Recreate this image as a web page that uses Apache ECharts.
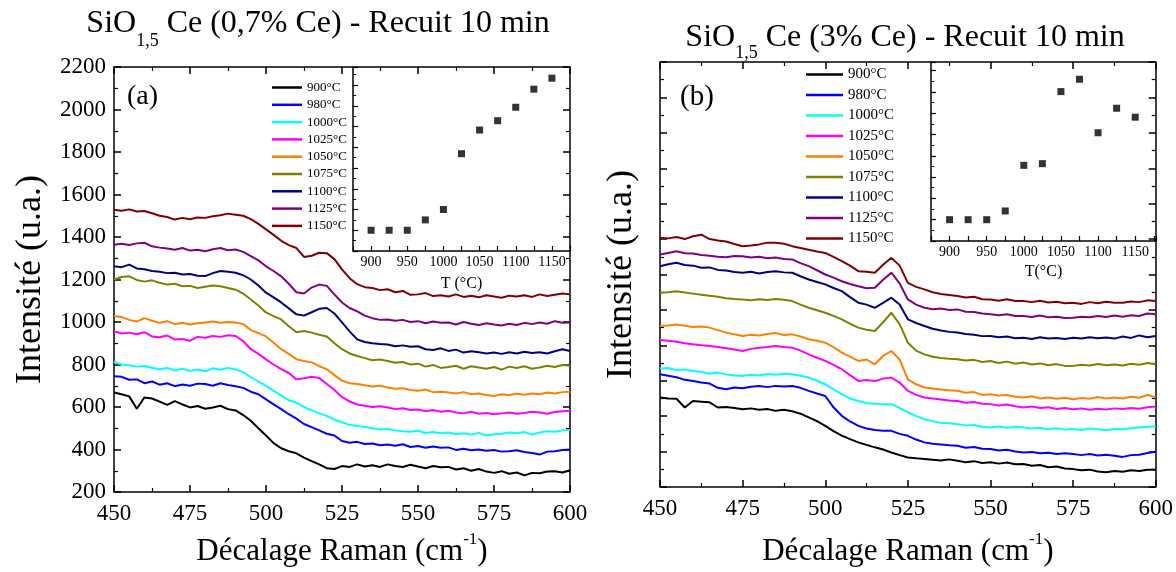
<!DOCTYPE html>
<html><head><meta charset="utf-8">
<script src="https://cdn.jsdelivr.net/npm/echarts@6/dist/echarts.min.js"></script>
<style>html,body{margin:0;padding:0;background:#fff}#c{width:1176px;height:572px}</style>
</head><body><div id="c"></div>
<script>
const FONT = '"Liberation Serif", "DejaVu Serif", serif';

const ramanShift = [450,452.5,455,457.5,460,462.5,465,467.5,470,472.5,475,477.5,480,482.5,485,487.5,490,492.5,495,497.5,500,502.5,505,507.5,510,512.5,515,517.5,520,522.5,525,527.5,530,532.5,535,537.5,540,542.5,545,547.5,550,552.5,555,557.5,560,562.5,565,567.5,570,572.5,575,577.5,580,582.5,585,587.5,590,592.5,595,597.5,600];
const tempLabels = ['900°C','980°C','1000°C','1025°C','1050°C','1075°C','1100°C','1125°C','1150°C'];
const lineColors = ['#000000','#0000ff','#00ffff','#ff00ff','#ff8000','#808000','#000080','#800080','#800000'];

// Panel (a) SiO1,5 Ce 0,7%
const a900 = [668,660,650,592,645,640,625,610,628,612,598,605,592,598,606,590,584,562,535,500,466,430,406,392,382,362,345,330,312,308,322,318,330,320,326,318,330,322,318,328,320,312,322,316,318,306,312,300,308,296,290,298,286,292,278,290,288,296,298,292,302];
const a980 = [745,742,728,730,712,720,705,712,698,706,700,710,708,700,712,704,698,690,672,660,636,612,590,566,545,520,505,490,474,466,440,432,436,426,428,420,424,418,425,412,416,408,414,408,410,398,404,396,400,394,398,390,392,396,388,384,376,390,392,398,400];
const a1000 = [812,800,796,790,793,785,778,784,772,780,770,776,768,782,775,784,777,764,740,720,699,676,654,632,621,600,584,570,558,540,528,516,511,506,500,494,496,490,486,484,488,478,482,476,480,472,476,470,478,466,472,474,480,476,482,470,480,486,484,490,492];
const a1025 = [957,946,950,942,952,932,928,936,918,920,912,930,926,934,930,938,934,910,872,850,824,800,778,760,730,735,742,736,708,680,646,626,612,606,600,604,598,590,594,586,588,580,586,578,582,574,570,578,568,572,566,570,574,568,572,578,574,568,576,580,582];
const a1050 = [1028,1024,1010,1002,1018,1006,996,1004,990,996,988,994,998,1002,996,1000,998,990,962,948,932,902,872,850,825,816,810,792,778,750,724,712,708,702,696,700,692,686,688,680,676,682,670,672,668,664,670,660,664,656,652,660,656,662,658,664,660,668,664,670,672];
const a1075 = [1200,1212,1215,1198,1190,1196,1185,1176,1180,1168,1170,1160,1166,1172,1168,1160,1152,1134,1106,1078,1045,1028,1012,980,952,958,950,940,932,900,872,852,840,830,820,824,816,808,812,800,804,790,798,784,788,794,780,792,786,780,788,776,790,784,792,780,786,794,788,798,794];
const a1100 = [1262,1258,1270,1252,1248,1240,1236,1230,1232,1224,1226,1218,1216,1230,1240,1236,1232,1220,1200,1172,1138,1116,1092,1064,1036,1030,1046,1062,1066,1040,998,956,918,906,900,896,894,886,890,884,886,872,868,876,864,870,856,862,858,852,856,850,858,852,860,854,858,852,862,872,864];
const a1125 = [1364,1368,1362,1370,1373,1356,1350,1346,1340,1348,1336,1340,1333,1342,1348,1338,1341,1330,1310,1290,1262,1240,1215,1180,1140,1134,1162,1176,1170,1130,1092,1066,1050,1030,1018,1010,1012,1006,1010,1000,1004,994,1002,996,998,988,1000,992,986,994,988,984,992,986,996,990,998,992,1004,996,998];
const a1150 = [1528,1524,1530,1520,1522,1512,1500,1494,1482,1490,1484,1492,1490,1498,1502,1510,1505,1500,1484,1462,1436,1410,1382,1362,1348,1306,1312,1326,1324,1296,1248,1206,1178,1164,1160,1150,1154,1140,1146,1128,1130,1136,1122,1126,1120,1130,1118,1124,1116,1126,1120,1114,1124,1120,1126,1118,1130,1122,1128,1134,1130];

// Panel (b) SiO1,5 Ce 3%
const b900 = [505,500,498,449,486,482,478,449,452,446,439,444,436,440,430,436,428,414,393,372,345,316,290,270,252,238,224,212,195,180,167,162,158,154,150,156,148,140,146,136,140,132,138,128,130,120,124,112,116,104,101,94,98,88,83,90,86,94,90,98,97];
const b980 = [637,628,620,605,599,590,584,560,552,562,558,566,570,564,571,568,570,560,543,528,514,450,402,370,345,330,322,318,317,300,289,268,252,244,240,236,233,222,226,216,214,206,210,200,195,198,190,194,186,190,186,180,186,178,182,176,170,180,182,192,199];
const b1000 = [669,672,660,664,655,650,640,646,636,630,627,634,630,638,634,640,637,628,618,600,580,552,524,500,486,474,470,468,468,446,421,400,383,372,362,360,355,348,350,340,336,342,334,340,336,330,334,326,332,324,327,322,330,326,320,328,326,332,336,340,342];
const b1025 = [830,826,820,812,806,800,796,790,784,776,768,780,786,790,796,790,787,770,749,730,712,690,665,632,599,604,598,612,618,590,543,520,505,500,494,488,486,476,480,470,468,460,466,456,449,454,446,450,440,446,439,444,436,442,438,444,440,446,442,450,455];
const b1050 = [909,912,918,910,904,906,900,886,872,862,853,860,856,864,870,858,862,850,834,826,815,790,759,736,712,720,693,740,768,720,608,580,562,556,550,546,543,532,536,520,524,516,520,510,505,512,500,506,498,504,496,502,498,508,500,506,500,510,504,520,505];
const b1075 = [1097,1100,1106,1098,1092,1086,1080,1074,1066,1062,1059,1054,1060,1056,1062,1058,1050,1030,1012,998,984,966,947,922,900,888,881,930,984,920,815,770,749,736,728,724,721,714,718,706,712,700,708,696,703,692,698,688,694,684,684,690,686,694,688,692,686,696,690,700,693];
const b1100 = [1247,1258,1266,1254,1250,1238,1240,1226,1222,1214,1210,1216,1206,1214,1218,1212,1210,1190,1172,1158,1144,1124,1106,1072,1041,1030,1012,1040,1069,1030,947,926,909,894,884,876,872,864,860,852,853,846,850,840,843,836,846,838,842,836,843,838,846,840,844,838,850,842,856,846,853];
const b1125 = [1313,1322,1331,1320,1318,1310,1306,1300,1298,1304,1303,1296,1300,1292,1296,1288,1285,1264,1247,1224,1200,1182,1162,1146,1134,1122,1125,1170,1210,1150,1059,1030,1012,1004,1008,1000,1003,990,988,980,975,970,976,966,965,960,968,958,962,954,956,962,958,966,960,968,962,970,966,980,975];
const b1150 = [1407,1404,1412,1400,1416,1425,1400,1392,1386,1372,1360,1364,1370,1380,1379,1374,1360,1350,1340,1330,1322,1300,1275,1250,1219,1215,1210,1255,1294,1250,1153,1130,1116,1100,1090,1084,1078,1070,1074,1060,1059,1052,1060,1050,1050,1044,1052,1042,1046,1038,1041,1034,1044,1038,1046,1040,1041,1048,1044,1054,1050];

// Insets: intensity of the c-Si peak (arb. units) vs annealing temperature
const insetTemps = [900,925,950,975,1000,1025,1050,1075,1100,1125,1150];
const insetA = [1.0,1.0,1.0,1.5,2.0,4.69,5.83,6.28,6.93,7.80,8.33];
const insetB = [1.0,1.0,1.0,1.41,3.55,3.63,7.01,7.59,5.08,6.23,5.81];

const seriesA = [a900,a980,a1000,a1025,a1050,a1075,a1100,a1125,a1150];
const seriesB = [b900,b980,b1000,b1025,b1050,b1075,b1100,b1125,b1150];

const BLACK = '#000';
function frameAxis(extra) {
  return Object.assign({
    type: 'value',
    axisLine: {show: true, onZero: false, lineStyle: {color: BLACK, width: 1.5}},
    axisTick: {show: true, inside: true, length: 7, lineStyle: {color: BLACK, width: 1.5}},
    minorTick: {show: true, splitNumber: 2, length: 4, lineStyle: {color: BLACK, width: 1.2}},
    splitLine: {show: false},
    minorSplitLine: {show: false},
    axisLabel: {show: false}
  }, extra);
}
const tickLabel = {show: true, color: BLACK, fontFamily: FONT, fontSize: 23, margin: 10,
  formatter: v => String(v)};
const insetLabel = {show: true, color: BLACK, fontFamily: FONT, fontSize: 14, margin: 4,
  formatter: v => (v % 50 === 0 ? String(v) : '')};

const xNameRich = {
  a: {fontFamily: FONT, fontSize: 31, color: BLACK, lineHeight: 36, verticalAlign: 'bottom'},
  s: {fontFamily: FONT, fontSize: 17, color: BLACK, lineHeight: 18, verticalAlign: 'top'}
};
const xName = '{a|Décalage Raman (cm}{s|-1}{a|)}';
const yNameStyle = {fontFamily: FONT, fontSize: 36, color: BLACK};

const xAxes = [
  frameAxis({gridIndex: 0, position: 'bottom', min: 450, max: 600, interval: 25, axisLabel: tickLabel,
    name: xName, nameLocation: 'middle', nameGap: 39, nameTextStyle: {rich: xNameRich}}),
  frameAxis({gridIndex: 0, position: 'top', min: 450, max: 600, interval: 25}),
  frameAxis({gridIndex: 1, position: 'bottom', min: 875, max: 1175, interval: 25,
    axisTick: {show: true, inside: true, length: 5, lineStyle: {color: BLACK, width: 1.2}},
    minorTick: {show: false}, axisLabel: insetLabel,
    name: 'T (°C)', nameLocation: 'middle', nameGap: 25,
    nameTextStyle: {fontFamily: FONT, fontSize: 16, color: BLACK}}),
  frameAxis({gridIndex: 2, position: 'bottom', min: 450, max: 600, interval: 25, axisLabel: tickLabel,
    name: xName, nameLocation: 'middle', nameGap: 44, nameTextStyle: {rich: xNameRich}}),
  frameAxis({gridIndex: 2, position: 'top', min: 450, max: 600, interval: 25}),
  frameAxis({gridIndex: 3, position: 'bottom', min: 875, max: 1178, interval: 25,
    axisTick: {show: true, inside: true, length: 5, lineStyle: {color: BLACK, width: 1.2}},
    minorTick: {show: false}, axisLabel: insetLabel,
    name: 'T(°C)', nameLocation: 'middle', nameGap: 23,
    nameTextStyle: {fontFamily: FONT, fontSize: 16, color: BLACK}})
];
const yAxes = [
  frameAxis({gridIndex: 0, position: 'left', min: 200, max: 2200, interval: 200,
    axisLabel: Object.assign({}, tickLabel, {margin: 8}),
    name: 'Intensité (u.a.)', nameLocation: 'middle', nameGap: 65, nameTextStyle: yNameStyle}),
  frameAxis({gridIndex: 0, position: 'right', min: 200, max: 2200, interval: 200}),
  frameAxis({gridIndex: 1, position: 'left', min: 0, max: 8.87, interval: 1,
    axisTick: {show: true, inside: true, length: 5, lineStyle: {color: BLACK, width: 1.2}},
    minorTick: {show: true, splitNumber: 2, length: 3, lineStyle: {color: BLACK, width: 1}}}),
  frameAxis({gridIndex: 2, position: 'left', min: 0, max: 2400, interval: 200,
    name: 'Intensité (u.a.)', nameLocation: 'middle', nameGap: 20, nameTextStyle: yNameStyle}),
  frameAxis({gridIndex: 2, position: 'right', min: 0, max: 2400, interval: 200}),
  frameAxis({gridIndex: 3, position: 'left', min: 0, max: 8.4, interval: 1,
    axisTick: {show: true, inside: true, length: 5, lineStyle: {color: BLACK, width: 1.2}},
    minorTick: {show: true, splitNumber: 2, length: 3, lineStyle: {color: BLACK, width: 1}}})
];

function lineSeries(vals, i, xi, yi) {
  return {
    type: 'line', name: tempLabels[i], xAxisIndex: xi, yAxisIndex: yi,
    data: vals.map((v, k) => [ramanShift[k], v]),
    showSymbol: false, symbol: 'none', silent: true,
    lineStyle: {color: lineColors[i], width: 2}, itemStyle: {color: lineColors[i]},
    z: 2
  };
}
const series = [];
seriesA.forEach((v, i) => series.push(lineSeries(v, i, 0, 0)));
seriesB.forEach((v, i) => series.push(lineSeries(v, i, 3, 3)));
series.push({type: 'scatter', xAxisIndex: 2, yAxisIndex: 2, symbol: 'rect', symbolSize: 7,
  itemStyle: {color: BLACK}, data: insetTemps.map((t, k) => [t, insetA[k]])});
series.push({type: 'scatter', xAxisIndex: 5, yAxisIndex: 5, symbol: 'rect', symbolSize: 7,
  itemStyle: {color: BLACK}, data: insetTemps.map((t, k) => [t, insetB[k]])});

function titleRich(subLine) {
  return {
    a: {fontFamily: FONT, fontSize: 32, fontWeight: 'normal', color: BLACK, lineHeight: 30, verticalAlign: 'top'},
    s: {fontFamily: FONT, fontSize: 18, fontWeight: 'normal', color: BLACK, lineHeight: subLine, verticalAlign: 'bottom'}
  };
}

const legendBase = {
  orient: 'vertical', icon: 'rect', selectedMode: false, data: tempLabels, padding: 0
};

const option = {
  animation: false,
  backgroundColor: '#fff',
  title: [
    {text: '{a|SiO}{s|1,5}{a| Ce (0,7% Ce) - Recuit 10 min}', left: 318, textAlign: 'center', top: 8, padding: 0,
     textStyle: {fontWeight: 'normal', rich: titleRich(42)}},
    {text: '{a|SiO}{s|1,5}{a| Ce (3% Ce) - Recuit 10 min}', left: 905, textAlign: 'center', top: 22, padding: 0,
     textStyle: {fontWeight: 'normal', rich: titleRich(40)}},
    {text: '(a)', left: 127, top: 82, padding: 0, textStyle: {fontFamily: FONT, fontSize: 28, fontWeight: 'normal', color: BLACK, lineHeight: 30}},
    {text: '(b)', left: 680, top: 82, padding: 0, textStyle: {fontFamily: FONT, fontSize: 29, fontWeight: 'normal', color: BLACK, lineHeight: 30}}
  ],
  legend: [
    Object.assign({}, legendBase, {left: 272, top: 81, itemWidth: 30, itemHeight: 2.5, itemGap: 4.3,
      textStyle: {fontFamily: FONT, fontSize: 13, color: BLACK, lineHeight: 13}}),
    Object.assign({}, legendBase, {left: 806, top: 67, itemWidth: 37, itemHeight: 2.5, itemGap: 5.5,
      textStyle: {fontFamily: FONT, fontSize: 15, color: BLACK, lineHeight: 15}})
  ],
  grid: [
    {left: 114, top: 67, width: 456, height: 426},
    {left: 353, top: 67, width: 217, height: 184},
    {left: 660, top: 62, width: 496, height: 426},
    {left: 931, top: 62, width: 225, height: 179}
  ],
  xAxis: xAxes,
  yAxis: yAxes,
  series: series
};

const chart = echarts.init(document.getElementById('c'), null, {renderer: 'canvas'});
chart.setOption(option);
</script>
</body></html>
